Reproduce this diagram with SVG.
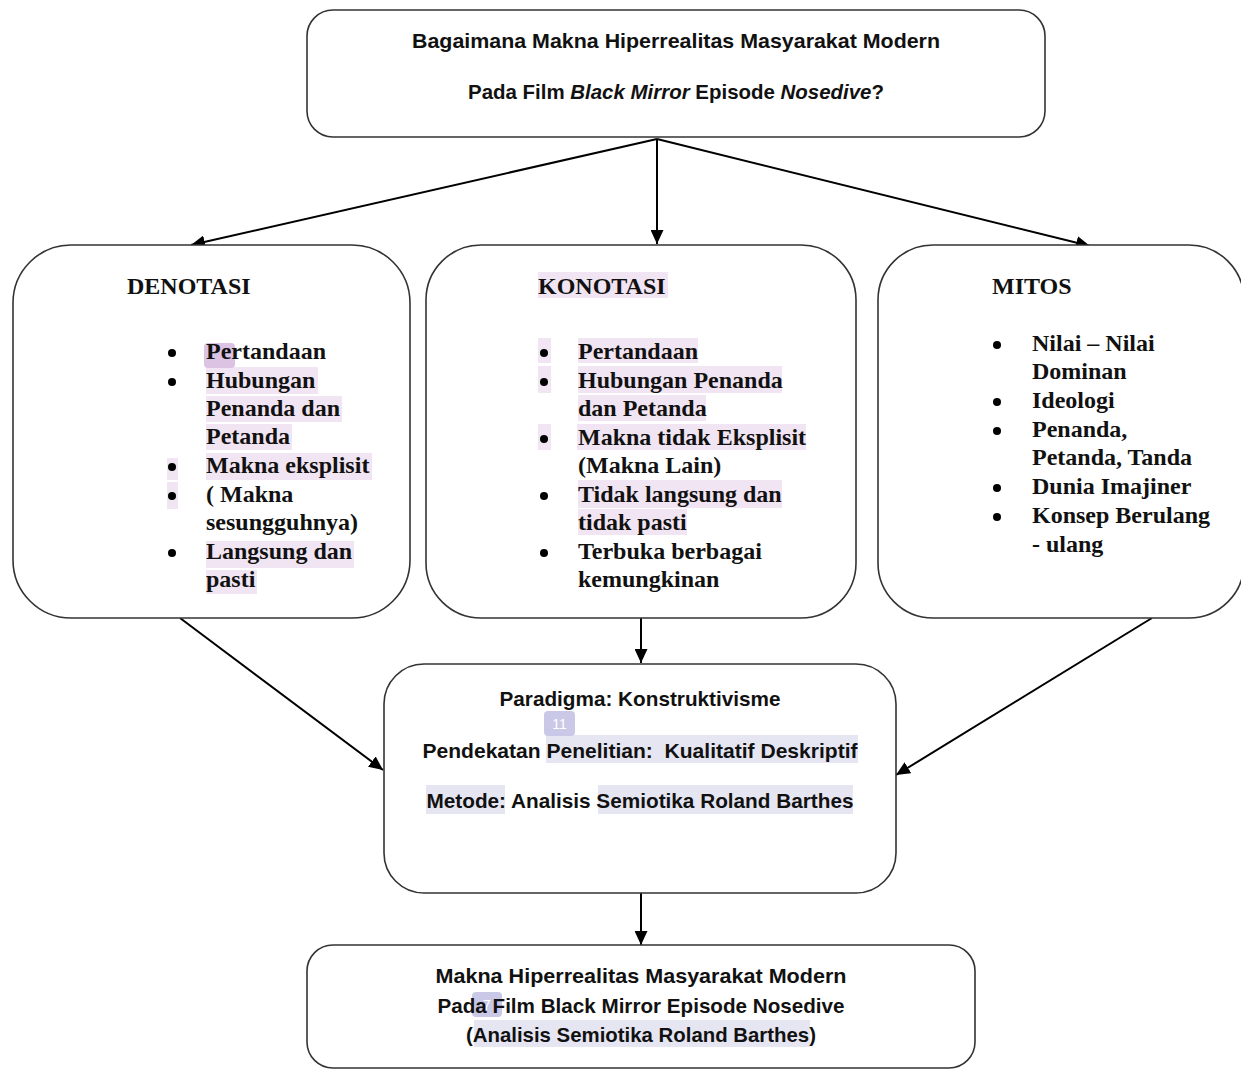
<svg xmlns="http://www.w3.org/2000/svg" width="1241" height="1069" viewBox="0 0 1241 1069">
<style>
.box{fill:#fff;stroke:#333;stroke-width:1.6}
.sans{font-family:"Liberation Sans","Noto Sans",Arial,sans-serif;font-weight:bold;font-size:21px;fill:#111}
.serif{font-family:"Liberation Serif","Times New Roman",serif;font-weight:bold;font-size:24px;fill:#111}
.hp{fill:#f1e5f3}
.hl{fill:#e6e6f3}
.badge{fill:#c9c9e7}
.conn line{stroke:#000;stroke-width:2}
.bul{fill:#000}
</style>
<defs>
<marker id="arr" markerUnits="userSpaceOnUse" markerWidth="15" markerHeight="13" refX="14" refY="6.5" orient="auto">
<path d="M0,0 L14,6.5 L0,13 z" fill="#000"/>
</marker>
</defs>
<rect width="1241" height="1069" fill="#fff"/>

<g class="conn">
<line x1="657" y1="139" x2="191" y2="245" marker-end="url(#arr)"/>
<line x1="657" y1="139" x2="657" y2="244" marker-end="url(#arr)"/>
<line x1="657" y1="139" x2="1090" y2="246" marker-end="url(#arr)"/>
<line x1="180" y1="618" x2="383" y2="770" marker-end="url(#arr)"/>
<line x1="641" y1="618" x2="641" y2="663" marker-end="url(#arr)"/>
<line x1="1152" y1="618" x2="896" y2="775" marker-end="url(#arr)"/>
<line x1="641" y1="893" x2="641" y2="945" marker-end="url(#arr)"/>
</g>

<g id="question">
<rect class="box" x="307" y="10" width="738" height="127" rx="26"/>
<text class="sans" x="676" y="48" text-anchor="middle" textLength="528" lengthAdjust="spacingAndGlyphs">Bagaimana Makna Hiperrealitas Masyarakat Modern</text>
<text class="sans" x="676" y="99" text-anchor="middle" textLength="416" lengthAdjust="spacingAndGlyphs">Pada Film <tspan font-style="italic">Black Mirror</tspan> Episode <tspan font-style="italic">Nosedive</tspan>?</text>
</g>

<g id="denotasi">
<rect class="box" x="13" y="245" width="397" height="373" rx="58"/>
<rect class="hp" x="206" y="367" width="112" height="27"/>
<rect class="hp" x="206" y="396" width="136" height="26"/>
<rect class="hp" x="206" y="424" width="86" height="26"/>
<rect class="hp" x="206" y="453" width="166" height="27"/>
<rect class="hp" x="167" y="458" width="11" height="22"/>
<rect class="hp" x="167" y="482" width="11" height="27"/>
<rect class="hp" x="206" y="541" width="148" height="27"/>
<rect class="hp" x="206" y="570" width="51" height="24"/>
<rect x="204" y="343" width="31" height="25" rx="4" fill="#dcc3e4"/>
<text class="serif" x="127" y="294">DENOTASI</text>
<circle class="bul" cx="172" cy="353" r="4"/>
<circle class="bul" cx="172" cy="382" r="4"/>
<circle class="bul" cx="172" cy="467" r="4"/>
<circle class="bul" cx="172" cy="496" r="4"/>
<circle class="bul" cx="172" cy="553" r="4"/>
<text class="serif" x="206" y="359">Pertandaan</text>
<text class="serif" x="206" y="388">Hubungan</text>
<text class="serif" x="206" y="416">Penanda dan</text>
<text class="serif" x="206" y="444">Petanda</text>
<text class="serif" x="206" y="473">Makna eksplisit</text>
<text class="serif" x="206" y="502">( Makna</text>
<text class="serif" x="206" y="530">sesungguhnya)</text>
<text class="serif" x="206" y="559">Langsung dan</text>
<text class="serif" x="206" y="587">pasti</text>
</g>

<g id="konotasi">
<rect class="box" x="426" y="245" width="430" height="373" rx="55"/>
<rect class="hp" x="538" y="272" width="130" height="26"/>
<rect class="hp" x="538" y="338" width="13" height="25"/>
<rect class="hp" x="578" y="338" width="120" height="25"/>
<rect class="hp" x="538" y="366" width="13" height="27"/>
<rect class="hp" x="578" y="366" width="204" height="27"/>
<rect class="hp" x="578" y="395" width="128" height="26"/>
<rect class="hp" x="538" y="424" width="13" height="26"/>
<rect class="hp" x="577" y="424" width="229" height="26"/>
<rect class="hp" x="578" y="480" width="204" height="28"/>
<rect class="hp" x="578" y="509" width="109" height="26"/>
<text class="serif" x="538" y="294">KONOTASI</text>
<circle class="bul" cx="544" cy="353" r="4"/>
<circle class="bul" cx="544" cy="382" r="4"/>
<circle class="bul" cx="544" cy="439" r="4"/>
<circle class="bul" cx="544" cy="496" r="4"/>
<circle class="bul" cx="544" cy="553" r="4"/>
<text class="serif" x="578" y="359">Pertandaan</text>
<text class="serif" x="578" y="388">Hubungan Penanda</text>
<text class="serif" x="578" y="416">dan Petanda</text>
<text class="serif" x="578" y="445">Makna tidak Eksplisit</text>
<text class="serif" x="578" y="473">(Makna Lain)</text>
<text class="serif" x="578" y="502">Tidak langsung dan</text>
<text class="serif" x="578" y="530">tidak pasti</text>
<text class="serif" x="578" y="559">Terbuka berbagai</text>
<text class="serif" x="578" y="587">kemungkinan</text>
</g>

<g id="mitos">
<rect class="box" x="878" y="245" width="366" height="373" rx="55"/>
<text class="serif" x="992" y="294">MITOS</text>
<circle class="bul" cx="997" cy="345" r="4"/>
<circle class="bul" cx="997" cy="402" r="4"/>
<circle class="bul" cx="997" cy="431" r="4"/>
<circle class="bul" cx="997" cy="488" r="4"/>
<circle class="bul" cx="997" cy="517" r="4"/>
<text class="serif" x="1032" y="351">Nilai – Nilai</text>
<text class="serif" x="1032" y="379">Dominan</text>
<text class="serif" x="1032" y="408">Ideologi</text>
<text class="serif" x="1032" y="437">Penanda,</text>
<text class="serif" x="1032" y="465">Petanda, Tanda</text>
<text class="serif" x="1032" y="494">Dunia Imajiner</text>
<text class="serif" x="1032" y="523">Konsep Berulang</text>
<text class="serif" x="1032" y="552">- ulang</text>
</g>

<g id="metode">
<rect class="box" x="384" y="664" width="512" height="229" rx="40"/>
<rect class="hl" x="546" y="735" width="312" height="28"/>
<rect class="hl" x="426" y="785" width="79" height="29"/>
<rect class="hl" x="598" y="785" width="255" height="29"/>
<rect class="badge" x="544" y="711" width="31" height="25" rx="4"/>
<text x="559.5" y="729" text-anchor="middle" font-family="Liberation Sans, Arial, sans-serif" font-size="14" fill="#fff">11</text>
<text class="sans" x="640" y="706" text-anchor="middle" textLength="281" lengthAdjust="spacingAndGlyphs">Paradigma: Konstruktivisme</text>
<text class="sans" x="640" y="758" text-anchor="middle" textLength="435" lengthAdjust="spacingAndGlyphs" xml:space="preserve">Pendekatan Penelitian:  Kualitatif Deskriptif</text>
<text class="sans" x="640" y="808" text-anchor="middle" textLength="427" lengthAdjust="spacingAndGlyphs">Metode: Analisis Semiotika Roland Barthes</text>
</g>

<g id="hasil">
<rect class="box" x="307" y="945" width="668" height="123" rx="26"/>
<rect class="hl" x="474" y="1020" width="336" height="27"/>
<rect class="badge" x="472" y="992" width="30" height="25" rx="4"/>
<text x="487" y="1010" text-anchor="middle" font-family="Liberation Sans, Arial, sans-serif" font-size="14" fill="#fff">7</text>
<text class="sans" x="641" y="983" text-anchor="middle" textLength="411" lengthAdjust="spacingAndGlyphs">Makna Hiperrealitas Masyarakat Modern</text>
<text class="sans" x="641" y="1013" text-anchor="middle" textLength="407" lengthAdjust="spacingAndGlyphs">Pada Film Black Mirror Episode Nosedive</text>
<text class="sans" x="641" y="1042" text-anchor="middle" textLength="350" lengthAdjust="spacingAndGlyphs">(Analisis Semiotika Roland Barthes)</text>
</g>
</svg>
